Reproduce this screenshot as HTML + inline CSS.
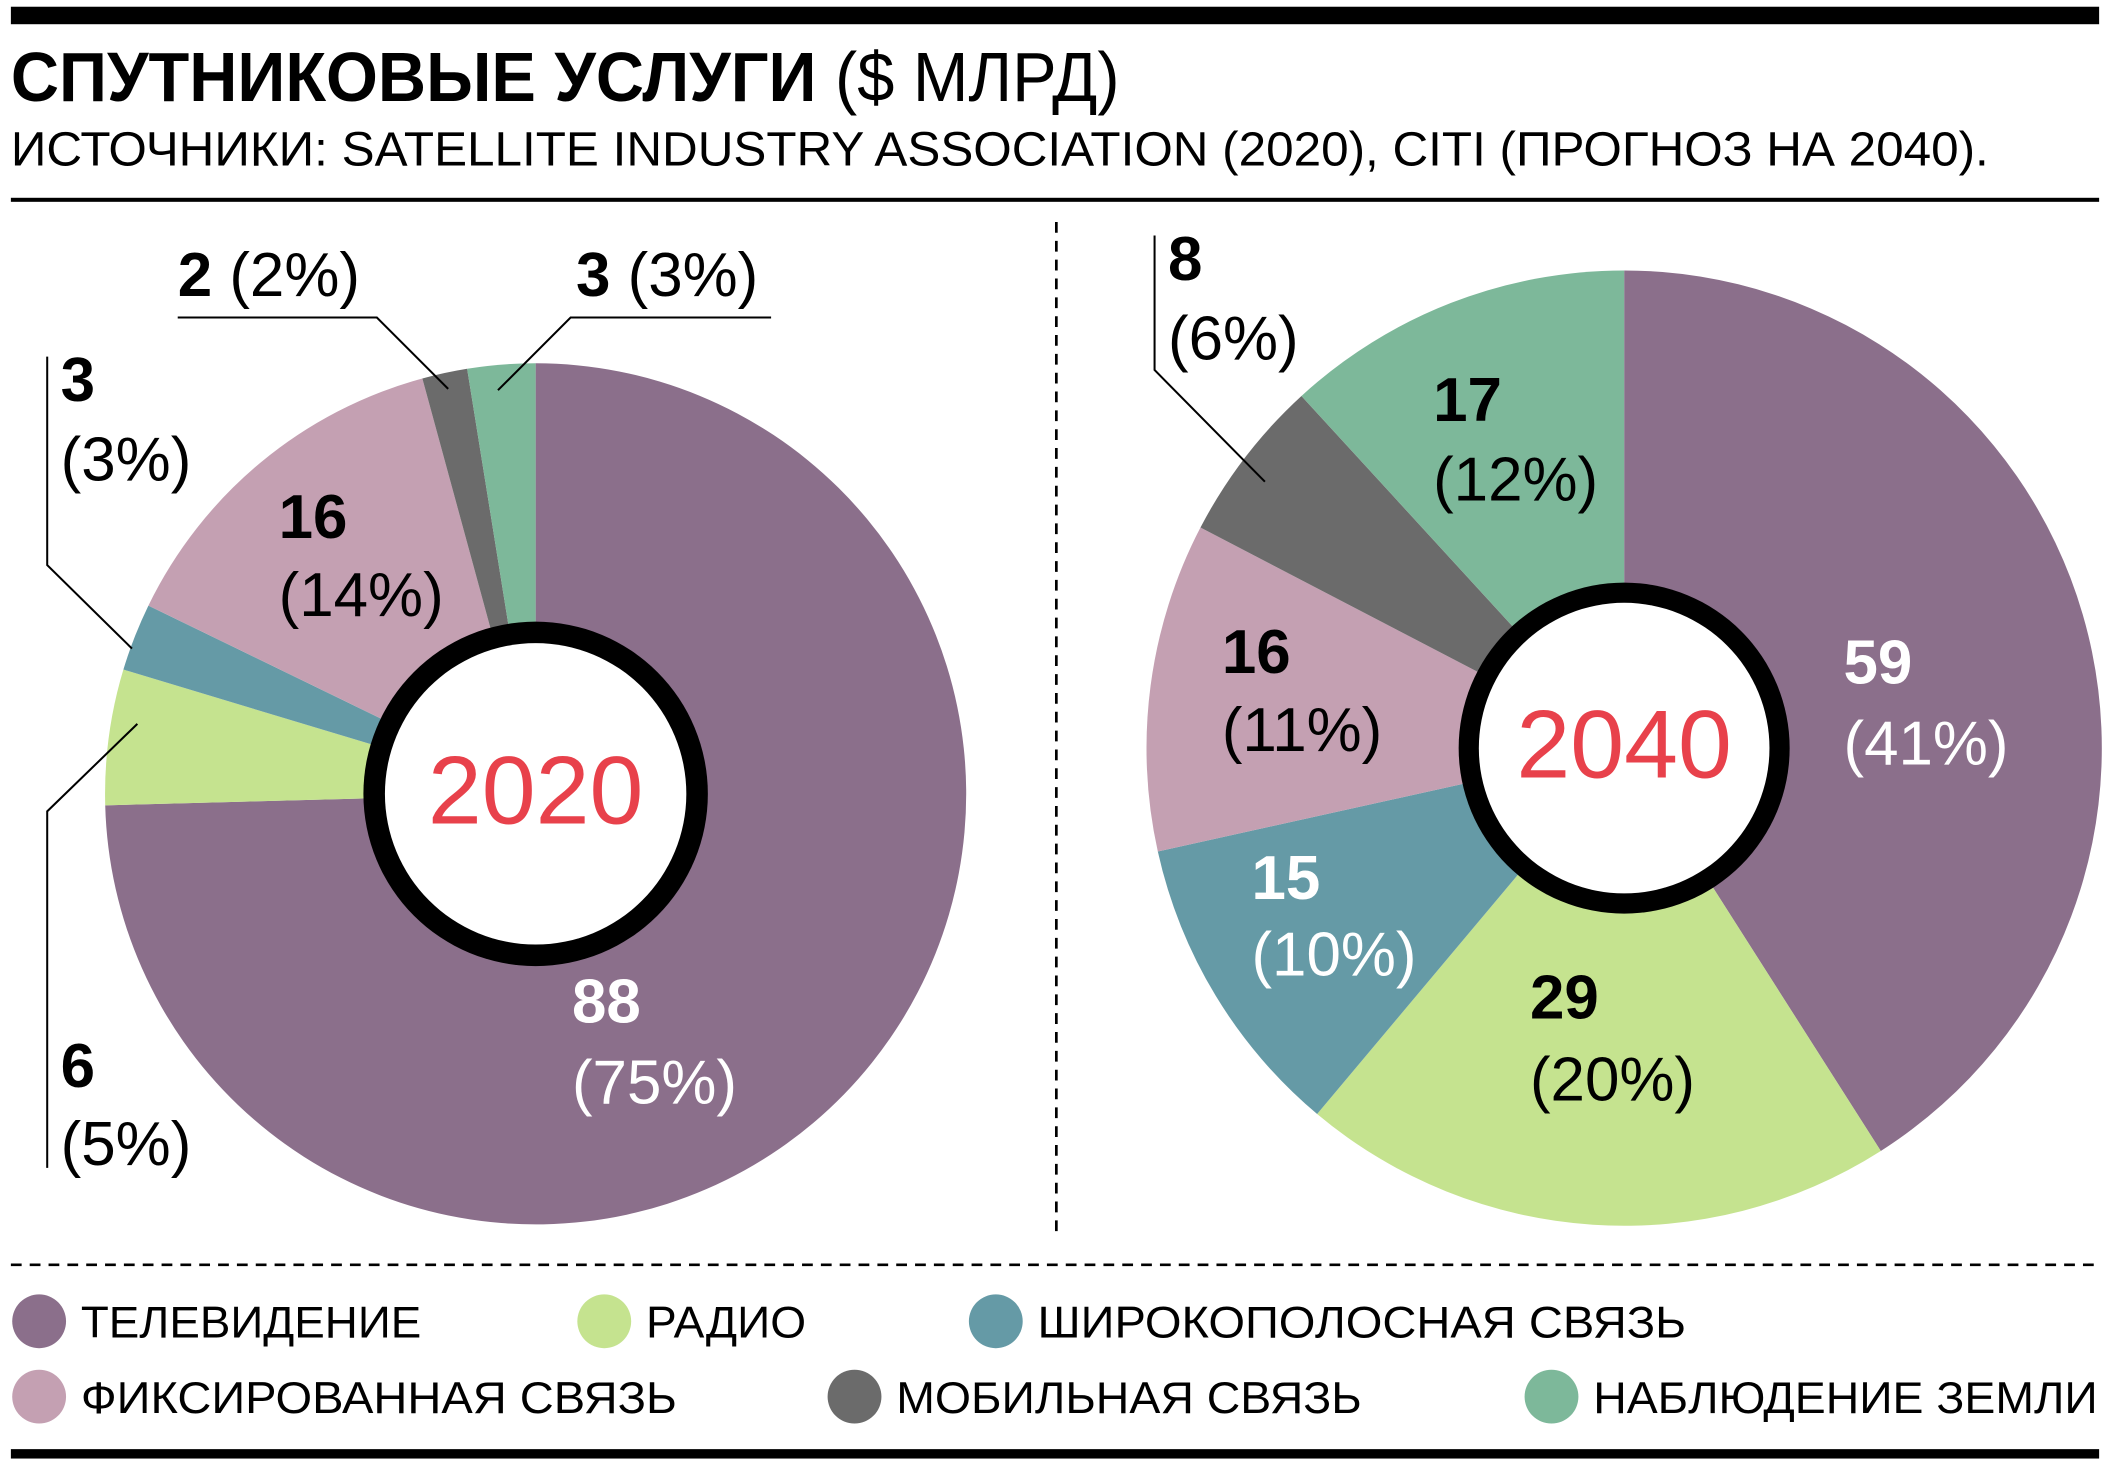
<!DOCTYPE html>
<html><head><meta charset="utf-8"><style>
html,body{margin:0;padding:0;background:#fff}
svg{display:block}
text{font-family:"Liberation Sans Narrow","Liberation Sans",sans-serif}
</style></head><body>
<svg id="chart" width="2110" height="1472" viewBox="0 0 1568 1094" xmlns="http://www.w3.org/2000/svg">
<rect x="0" y="0" width="1568" height="1094" fill="#fff"/>
<rect x="8" y="5" width="1552" height="13" fill="#000"/>
<text x="8" y="75" font-size="52" textLength="824" lengthAdjust="spacingAndGlyphs"><tspan font-weight="bold">СПУТНИКОВЫЕ УСЛУГИ</tspan> ($ МЛРД)</text>
<text x="8" y="123" font-size="36" textLength="1470" lengthAdjust="spacingAndGlyphs">ИСТОЧНИКИ: SATELLITE INDUSTRY ASSOCIATION (2020), CITI (ПРОГНОЗ НА 2040).</text>
<rect x="8" y="147" width="1552" height="3" fill="#000"/>
<line x1="785" y1="165" x2="785" y2="918" stroke="#000" stroke-width="2" stroke-dasharray="8,6"/>
<line x1="8" y1="940" x2="1560" y2="940" stroke="#000" stroke-width="2" stroke-dasharray="8,6"/>
<rect x="8" y="1077" width="1552" height="7" fill="#000"/>
<g id="pies"></g>
<g id="leaders" stroke="#000" stroke-width="1.5" fill="none">
<polyline points="35,265 35,420 98,482"/>
<polyline points="35,868 35,603 102,538"/>
<polyline points="132,236 280,236 333,289"/>
<polyline points="573,236 424,236 370,290"/>
<polyline points="858,175 858,275 940,358"/>
</g>
<g id="labels" font-size="46"></g>
<g id="legend" font-size="33"></g>
</svg>
<script>
const categories = ["ТЕЛЕВИДЕНИЕ","РАДИО","ШИРОКОПОЛОСНАЯ СВЯЗЬ","ФИКСИРОВАННАЯ СВЯЗЬ","МОБИЛЬНАЯ СВЯЗЬ","НАБЛЮДЕНИЕ ЗЕМЛИ"];
const colors = ["#8b6f8b","#c5e38f","#659aa6","#c4a0b2","#6b6b6b","#7db89a"];
const values2020 = [88,6,3,16,2,3];
const values2040 = [59,29,15,16,8,17];
const years = ["2020","2040"];
const NS="http://www.w3.org/2000/svg";
function mk(tag,attrs,parent){const e=document.createElementNS(NS,tag);for(const k in attrs)e.setAttribute(k,attrs[k]);parent.appendChild(e);return e;}
const pies=document.getElementById('pies');
function drawPie(vals,cx,cy,r,ro,ri,year){
  const total=vals.reduce((a,b)=>a+b,0);
  let a0=0;
  vals.forEach((v,i)=>{
    const a1=a0+v/total*2*Math.PI;
    const x0=cx+r*Math.sin(a0),y0=cy-r*Math.cos(a0),x1=cx+r*Math.sin(a1),y1=cy-r*Math.cos(a1);
    const large=(a1-a0)>Math.PI?1:0;
    const p=mk('path',{d:`M${cx},${cy} L${x0},${y0} A${r},${r} 0 ${large} 1 ${x1},${y1} Z`,fill:colors[i]},pies);
    
    
    a0=a1;
  });
  const o=mk('circle',{cx:cx,cy:cy,r:ro,fill:'#000'},pies);
  
  
  const w=mk('circle',{cx:cx,cy:cy,r:ri,fill:'#fff'},pies);
  
  
  const t=mk('text',{x:cx,y:cy+22,'text-anchor':'middle','font-size':'72',fill:'#e8414b'},pies);
  t.textContent=year;
  
  
}
drawPie(values2020,398,590,320,128,112,years[0]);
drawPie(values2040,1207,556,355,123,108,years[1]);
const labels=document.getElementById('labels');
function pct(vals,i){const t=vals.reduce((a,b)=>a+b,0);return Math.round(vals[i]/t*100);}
function lab(vals,i,x,y1,y2,color,inline,name){
  if(inline){
    const t=mk('text',{x:x,y:y1,fill:color},labels);
    const b=mk('tspan',{'font-weight':'bold'},t);b.textContent=vals[i];
    const s=mk('tspan',{},t);s.textContent=' ('+pct(vals,i)+'%)';
    
    
  } else {
    const a=mk('text',{x:x,y:y1,fill:color,'font-weight':'bold'},labels);a.textContent=vals[i];
    
    
    const b=mk('text',{x:x,y:y2,fill:color},labels);b.textContent='('+pct(vals,i)+'%)';
    
    
  }
}
lab(values2020,4,132,220,0,'#000',true,'label-2020-mobile');
lab(values2020,5,428,220,0,'#000',true,'label-2020-earth');
lab(values2020,2,45,298,357,'#000',false,'label-2020-broadband');
lab(values2020,3,207,400,458,'#000',false,'label-2020-fixed');
lab(values2020,0,425,760,820,'#fff',false,'label-2020-tv');
lab(values2020,1,45,808,866,'#000',false,'label-2020-radio');
lab(values2040,4,868,208,267,'#000',false,'label-2040-mobile');
lab(values2040,5,1065,313,372,'#000',false,'label-2040-earth');
lab(values2040,3,908,500,558,'#000',false,'label-2040-fixed');
lab(values2040,0,1370,508,568,'#fff',false,'label-2040-tv');
lab(values2040,2,930,668,725,'#fff',false,'label-2040-broadband');
lab(values2040,1,1137,757,818,'#000',false,'label-2040-radio');
const legend=document.getElementById('legend');
const legX=[29,449,740,29,635,1153];
const legY=[982,982,982,1038,1038,1038];
const legW=[253,119,482,443,346,375];
categories.forEach((c,i)=>{
  const g=mk('g',{},legend);
  
  
  const d=mk('circle',{cx:legX[i],cy:legY[i],r:20,fill:colors[i]},g);
  
  
  const t=mk('text',{x:legX[i]+31,y:legY[i]+12,textLength:legW[i],lengthAdjust:'spacingAndGlyphs'},g);
  t.textContent=c;
  
  
});
</script>
</body></html>
